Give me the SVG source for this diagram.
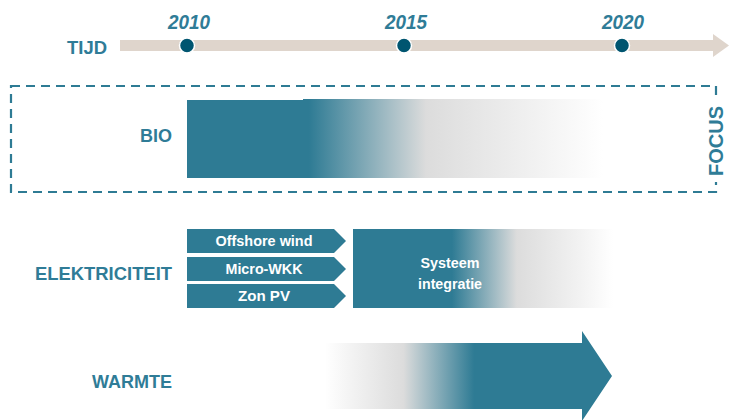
<svg xmlns="http://www.w3.org/2000/svg" width="729" height="420" viewBox="0 0 729 420">
<defs>
<style>
.lbl{font-family:"Liberation Sans",Arial,sans-serif;font-weight:bold;fill:#2f7c97}
.yr{font-family:"Liberation Sans",Arial,sans-serif;font-weight:bold;font-style:italic;fill:#2f7c97;font-size:20px}
.wt{font-family:"Liberation Sans",Arial,sans-serif;font-weight:bold;fill:#ffffff;font-size:14px}
.teal{fill:#2e7b94}
</style>
<linearGradient id="gBio" x1="0" y1="0" x2="1" y2="0">
<stop offset="0.02" stop-color="#2e7b94"/>
<stop offset="0.41" stop-color="#dcdcdc"/>
<stop offset="0.75" stop-color="#f0f0f0"/>
<stop offset="1" stop-color="#ffffff"/>
</linearGradient>
<linearGradient id="gSys" x1="0" y1="0" x2="1" y2="0">
<stop offset="0.03" stop-color="#2e7b94"/>
<stop offset="0.42" stop-color="#dcdcdc"/>
<stop offset="0.8" stop-color="#f2f2f2"/>
<stop offset="1" stop-color="#ffffff"/>
</linearGradient>
<linearGradient id="gWar" x1="0" y1="0" x2="1" y2="0">
<stop offset="0" stop-color="#ffffff"/>
<stop offset="0.15" stop-color="#f4f4f4"/>
<stop offset="0.5" stop-color="#dcdcdc"/>
<stop offset="0.95" stop-color="#2e7b94"/>
</linearGradient>
</defs>

<g id="timeline">
<rect x="120" y="40" width="596" height="11" fill="#dfd5cc"/>
<polygon points="713,34 729,45.5 713,57" fill="#dfd5cc"/>
<text class="lbl" x="107" y="54" font-size="18" text-anchor="end" textLength="40" lengthAdjust="spacingAndGlyphs">TIJD</text>
<circle cx="187" cy="45.5" r="7.5" fill="#005570" stroke="#ffffff" stroke-width="1.5"/>
<circle cx="404" cy="45.5" r="7.5" fill="#005570" stroke="#ffffff" stroke-width="1.5"/>
<circle cx="622" cy="45.5" r="7.5" fill="#005570" stroke="#ffffff" stroke-width="1.5"/>
<text class="yr" x="189" y="29" text-anchor="middle" textLength="42" lengthAdjust="spacingAndGlyphs">2010</text>
<text class="yr" x="406" y="29" text-anchor="middle" textLength="42" lengthAdjust="spacingAndGlyphs">2015</text>
<text class="yr" x="623" y="29" text-anchor="middle" textLength="42" lengthAdjust="spacingAndGlyphs">2020</text>
</g>

<g id="focus">
<rect x="11" y="86" width="705" height="106" fill="none" stroke="#2e7b94" stroke-width="2.2" stroke-dasharray="9,6"/>
<rect x="704" y="100" width="24" height="82" fill="#ffffff"/>
<text class="lbl" transform="translate(723,141) rotate(-90)" font-size="20" text-anchor="middle" textLength="70" lengthAdjust="spacingAndGlyphs">FOCUS</text>
</g>

<g id="bio">
<text class="lbl" x="172" y="142" font-size="18" text-anchor="end" textLength="32" lengthAdjust="spacingAndGlyphs">BIO</text>
<rect x="187" y="100" width="118" height="78" class="teal"/>
<rect x="303" y="99" width="300" height="79" fill="url(#gBio)"/>
</g>

<g id="elektriciteit">
<text class="lbl" x="172" y="280" font-size="18" text-anchor="end" textLength="137" lengthAdjust="spacingAndGlyphs">ELEKTRICITEIT</text>
</g>

<g id="offshore">
<polygon points="187,229 334,229 346,241 334,253 187,253" class="teal"/>
<text class="wt" x="264" y="246" text-anchor="middle" textLength="97" lengthAdjust="spacingAndGlyphs">Offshore wind</text>
</g>
<g id="microwkk">
<polygon points="187,257 334,257 346,269 334,281 187,281" class="teal"/>
<text class="wt" x="264" y="274" text-anchor="middle" textLength="77" lengthAdjust="spacingAndGlyphs">Micro-WKK</text>
</g>
<g id="zonpv">
<polygon points="187,284 334,284 346,296 334,308 187,308" class="teal"/>
<text class="wt" x="264" y="301" text-anchor="middle" textLength="52" lengthAdjust="spacingAndGlyphs">Zon PV</text>
</g>

<g id="systeem">
<rect x="353" y="229" width="97" height="79" class="teal"/>
<rect x="447" y="229" width="166" height="79" fill="url(#gSys)"/>
<text class="wt" x="450" y="268" font-size="15" text-anchor="middle" textLength="59" lengthAdjust="spacingAndGlyphs">Systeem</text>
<text class="wt" x="450" y="289" font-size="15" text-anchor="middle" textLength="64" lengthAdjust="spacingAndGlyphs">integratie</text>
</g>

<g id="warmte">
<text class="lbl" x="172" y="388" font-size="18" text-anchor="end" textLength="80" lengthAdjust="spacingAndGlyphs">WARMTE</text>
<rect x="325" y="343" width="157" height="66" fill="url(#gWar)"/>
<polygon points="480,343 582,343 582,331 612,376 582,421 582,409 480,409" class="teal"/>
</g>
</svg>
